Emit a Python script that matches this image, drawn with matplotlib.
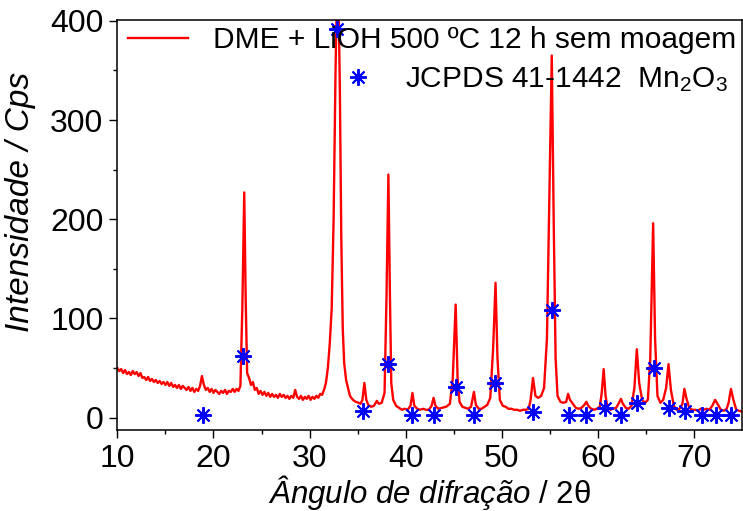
import matplotlib
matplotlib.use("Agg")
import matplotlib.pyplot as plt
from matplotlib.lines import Line2D
import numpy as np

plt.rcParams['font.family'] = ['Liberation Sans', 'DejaVu Sans']
plt.rcParams['mathtext.fontset'] = 'custom'
plt.rcParams['mathtext.rm'] = 'Liberation Sans'
plt.rcParams['mathtext.it'] = 'Liberation Sans:italic'

# Traced diffraction pattern (2theta, intensity)
two_theta = [
    10.0, 10.2, 10.4, 10.6, 10.8, 11.0, 11.2, 11.4, 11.6, 11.8, 12.0, 12.2, 12.4, 12.6, 12.8,
    13.0, 13.2, 13.4, 13.6, 13.8, 14.0, 14.2, 14.4, 14.6, 14.8, 15.0, 15.2, 15.4, 15.6, 15.8,
    16.0, 16.2, 16.4, 16.6, 16.8, 17.0, 17.2, 17.4, 17.6, 17.8, 18.0, 18.2, 18.4, 18.6, 18.8,
    19.0, 19.2, 19.4, 19.6, 19.8, 20.0, 20.2, 20.4, 20.6, 20.8, 21.0, 21.2, 21.4, 21.6, 21.8,
    22.0, 22.2, 22.4, 22.6, 22.8, 23.0, 23.2, 23.35, 23.5, 23.7, 23.9, 24.1, 24.3, 24.5, 24.7,
    24.9, 25.1, 25.3, 25.5, 25.7, 25.9, 26.1, 26.3, 26.5, 26.7, 26.9, 27.1, 27.3, 27.5, 27.7,
    27.9, 28.1, 28.3, 28.5, 28.7, 28.9, 29.1, 29.3, 29.5, 29.7, 29.9, 30.1, 30.3, 30.5, 30.7,
    30.9, 31.1, 31.3, 31.5, 31.7, 31.9, 32.1, 32.3, 32.5, 32.7, 32.85, 33.0, 33.15, 33.3, 33.45,
    33.6, 33.8, 34.0, 34.2, 34.5, 34.8, 35.1, 35.3, 35.5, 35.7, 35.9, 36.1, 36.4, 36.7, 37.0,
    37.2, 37.5, 37.8, 38.0, 38.2, 38.35, 38.5, 38.7, 39.0, 39.3, 39.6, 39.9, 40.2, 40.5, 40.7,
    40.9, 41.2, 41.5, 41.8, 42.1, 42.4, 42.7, 42.9, 43.1, 43.4, 43.8, 44.2, 44.6, 44.9, 45.2,
    45.4, 45.6, 45.9, 46.2, 46.5, 46.8, 47.1, 47.3, 47.6, 47.9, 48.2, 48.5, 48.8, 49.1, 49.35,
    49.55, 49.8, 50.1, 50.4, 50.7, 51.0, 51.3, 51.6, 51.9, 52.2, 52.5, 52.8, 53.0, 53.25, 53.5,
    53.8, 54.1, 54.4, 54.7, 55.0, 55.2, 55.4, 55.6, 55.8, 56.1, 56.4, 56.7, 56.9, 57.1, 57.4,
    57.7, 58.0, 58.3, 58.6, 58.8, 59.0, 59.3, 59.6, 59.9, 60.2, 60.4, 60.6, 60.8, 61.0, 61.3,
    61.6, 61.9, 62.2, 62.4, 62.6, 62.9, 63.2, 63.5, 63.8, 64.05, 64.3, 64.6, 64.9, 65.2, 65.45,
    65.75, 65.95, 66.2, 66.5, 66.8, 67.1, 67.35, 67.6, 67.9, 68.2, 68.5, 68.8, 69.0, 69.2, 69.5,
    69.8, 70.1, 70.4, 70.7, 71.0, 71.3, 71.6, 71.9, 72.2, 72.5, 72.8, 73.1, 73.4, 73.6, 73.85,
    74.1, 74.4, 74.7, 75.0,
]
intensity = [
    50, 47, 49, 45, 48, 44, 46, 43, 47, 44, 46, 42, 45, 40, 41,
    38, 41, 37, 39, 36, 38, 35, 37, 34, 36, 33, 36, 32, 35, 31,
    33, 30, 33, 29, 32, 30, 28, 31, 27, 30, 26, 29, 27, 32, 42,
    33, 28, 30, 26, 29, 25, 28, 26, 24, 27, 25, 28, 24, 27, 26,
    29, 26, 29, 27, 32, 110, 227, 120, 45, 40, 33, 36, 28, 30, 24,
    27, 23, 26, 22, 25, 21, 24, 21, 23, 20, 24, 21, 23, 20, 22,
    19, 22, 20, 28, 21, 19, 22, 18, 21, 19, 22, 18, 21, 19, 22,
    20, 24, 23, 28, 35, 50, 75, 110, 200, 350, 430, 430, 330, 180, 90,
    55, 38, 30, 22, 18, 16, 15, 14, 18, 35, 18, 13, 11, 12, 17,
    14, 15, 25, 120, 245, 130, 35, 18, 12, 10, 8, 9, 8, 12, 25,
    12, 9, 8, 9, 8, 8, 12, 20, 12, 9, 10, 11, 14, 40, 114,
    40, 16, 11, 10, 9, 11, 26, 13, 9, 9, 11, 13, 20, 70, 136,
    60, 18, 12, 11, 9, 9, 8, 8, 7, 8, 8, 9, 18, 40, 22,
    20, 22, 30, 80, 250, 365, 200, 60, 22, 16, 15, 16, 24, 18, 14,
    10, 9, 10, 13, 16, 12, 9, 8, 9, 11, 25, 49, 22, 10, 8,
    9, 10, 15, 19, 14, 10, 9, 12, 30, 69, 35, 18, 15, 18, 60,
    196, 80, 22, 15, 18, 30, 54, 28, 12, 8, 9, 14, 29, 20, 10,
    8, 8, 7, 9, 8, 9, 8, 12, 18, 13, 8, 7, 9, 15, 29,
    18, 8, 7, 6,
]

# JCPDS 41-1442 Mn2O3 reference positions
ref_theta = [18.9, 23.1, 32.9, 35.6, 38.2, 40.7, 42.9, 45.2, 47.1, 49.3, 53.2, 55.2,
             57.0, 58.8, 60.7, 62.4, 64.1, 65.8, 67.4, 69.1, 70.8, 72.3, 73.8]
ref_int = [3, 62, 392, 7, 54, 3, 3, 31, 3, 35, 6, 109,
           3, 3, 10, 3, 15, 50, 10, 7, 3, 3, 3]

label_sample = 'DME + LiOH 500 ºC 12 h sem moagem'
label_ref = r'JCPDS 41-1442  Mn$_\mathregular{2}$O$_\mathregular{3}$'
xlabel = r'$\mathit{Ângulo\ de\ difração\ /\ }\mathrm{2\theta}$'
ylabel = 'Intensidade / Cps'

fig = plt.figure(figsize=(7.43, 5.11), dpi=100)
ax = fig.add_axes([0.158, 0.1585, 0.8407, 0.8024])

ax.plot(two_theta, intensity, color='#ff0000', lw=1.7, zorder=2)
star_marker = (8, 2, 0)
ax.plot(ref_theta, ref_int, linestyle='none', marker=star_marker, markersize=12,
        markeredgecolor='#0000ff', markeredgewidth=1.4, color='#0000ff', zorder=3)

ax.set_xlim(10, 75)
ax.set_ylim(-12.4, 400.8)
ax.set_xticks([10, 20, 30, 40, 50, 60, 70])
ax.set_xticks(np.arange(15, 75, 10), minor=True)
ax.set_yticks([0, 100, 200, 300, 400])
ax.set_yticks([50, 150, 250, 350], minor=True)
ax.tick_params(axis='both', which='major', direction='out', length=6, width=1.0,
               labelsize=23, pad=4)
ax.tick_params(axis='both', which='minor', direction='out', length=3, width=1.0)
ax.tick_params(top=False, right=False)
for s in ax.spines.values():
    s.set_linewidth(1.1)

ax.set_xlabel(xlabel, fontsize=22.5, labelpad=-1)
ax.set_ylabel(ylabel, fontsize=24, style='italic')
ax.yaxis.set_label_coords(-0.130, 0.556)

fs_leg = 21.5
h1 = Line2D([], [], color='#ff0000', lw=1.7)
leg1 = ax.legend([h1], [label_sample], loc='center left', frameon=False, fontsize=fs_leg,
                 handlelength=2.0, handletextpad=0.84, borderaxespad=0, borderpad=0,
                 bbox_to_anchor=(0.0168, 0.951))
ax.add_artist(leg1)
h2 = Line2D([], [], linestyle='none', marker=star_marker, markersize=12,
            markeredgecolor='#0000ff', markeredgewidth=1.4)
leg2 = ax.legend([h2], [label_ref], loc='center left', frameon=False, fontsize=fs_leg,
                 handlelength=1.0, handletextpad=1.07, borderaxespad=0, borderpad=0,
                 bbox_to_anchor=(0.361, 0.854))

fig.savefig('out.png', dpi=100)
